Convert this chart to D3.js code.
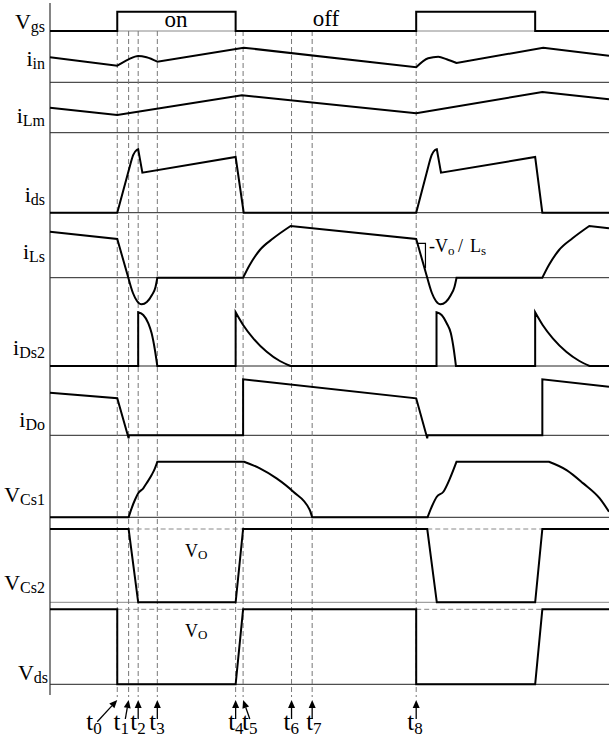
<!DOCTYPE html>
<html>
<head>
<meta charset="utf-8">
<script src="https://cdn.jsdelivr.net/npm/d3@7"></script>
<style>
  html, body { margin: 0; padding: 0; background: #fff; }
  svg { display: block; }
  text { font-family: "Liberation Serif", "DejaVu Serif", serif; }
</style>
</head>
<body>
<svg id="chart" width="609" height="739"></svg>
<script>
// Time runs in units where one switching period = 100 and t0 = 0.
const timeDomain = [-22.5, 164.5];

// Interval markers t0..t8
const markerSubs  = ["0", "1", "2", "3", "4", "5", "6", "7", "8"];
const markerTimes = [0, 3.8, 7.0, 13.4, 39.6, 42.1, 58.3, 65.2, 100];

// Row names (main symbol, subscript)
const rowSymbols = ["V", "i", "i", "i", "i", "i", "i", "V", "V", "V"];
const rowSubs    = ["gs", "in", "Lm", "ds", "Ls", "Ds2", "Do", "Cs1", "Cs2", "ds"];

// Waveforms, normalised per row. Each piece: [kind, points]; "L" = straight, "C" = smooth.
const vgsWave = [
  ["L", [[-22.5, 0], [0, 0], [0, 1], [39.6, 1], [39.6, 0], [100, 0], [100, 1], [139.8, 1], [139.8, 0], [164.5, 0]]]
];
const iinWave = [
  ["L", [[-22.5, 0.625], [0, 0.415]]],
  ["C", [[0, 0.415], [3.8, 0.575], [7.0, 0.658], [9.8, 0.625], [13.4, 0.515]]],
  ["L", [[13.4, 0.515], [42.3, 0.865], [100, 0.375]]],
  ["C", [[100, 0.375], [104.0, 0.60], [107.4, 0.64], [110.2, 0.575], [113.5, 0.483]]],
  ["L", [[113.5, 0.483], [142.5, 0.865], [164.5, 0.665]]]
];
const ilmWave = [
  ["L", [[-22.5, 0.625], [0, 0.4425], [41.7, 0.935], [100, 0.485], [142.2, 1.0175], [164.5, 0.835]]]
];
const idsWave = [
  ["L", [[-22.5, 0], [0, 0], [4.48, 0.823]]],
  ["C", [[4.48, 0.823], [5.35, 0.962], [6.5, 1.045], [7.0, 1.057]]],
  ["L", [[7.0, 1.057], [8.4, 0.667], [39.6, 0.928], [42.3, 0], [100, 0], [104.1, 0.778]]],
  ["C", [[104.1, 0.778], [105.2, 0.962], [106.3, 1.045], [106.9, 1.057]]],
  ["L", [[106.9, 1.057], [108.3, 0.667], [139.8, 0.928], [142.2, 0], [164.5, 0]]]
];
const ilsWave = [
  ["L", [[-22.5, 0.92], [0, 0.774], [3.7, 0]]],
  ["C", [[3.7, 0], [5.25, -0.306], [6.6, -0.466], [8.15, -0.532], [9.9, -0.486], [11.6, -0.346], [12.8, -0.186], [13.4, 0]]],
  ["L", [[13.4, 0], [42.1, 0]]],
  ["C", [[42.1, 0], [44.3, 0.254], [47.7, 0.554], [52.2, 0.788], [58.0, 1.034]]],
  ["L", [[58.0, 1.034], [100, 0.774], [103.7, 0]]],
  ["C", [[103.7, 0], [105.25, -0.306], [106.6, -0.466], [108.15, -0.532], [109.9, -0.486], [111.6, -0.346], [112.8, -0.186], [113.5, 0]]],
  ["L", [[113.5, 0], [142.2, 0]]],
  ["C", [[142.2, 0], [144.4, 0.254], [147.8, 0.554], [152.3, 0.788], [157.9, 1.034]]],
  ["L", [[157.9, 1.034], [164.5, 0.988]]]
];
const ids2Wave = [
  ["L", [[-22.5, 0], [7.0, 0], [7.0, 1.074]]],
  ["C", [[7.0, 1.074], [8.7, 1.02], [10.4, 0.854], [11.5, 0.654], [12.6, 0.32], [13.4, 0]]],
  ["L", [[13.4, 0], [39.6, 0], [39.6, 1.074]]],
  ["C", [[39.6, 1.074], [42.1, 0.82], [45.5, 0.554], [50.0, 0.286], [54.4, 0.1], [58.0, 0]]],
  ["L", [[58.0, 0], [106.8, 0], [106.8, 1.074]]],
  ["C", [[106.8, 1.074], [108.5, 1.02], [110.2, 0.854], [111.6, 0.654], [112.6, 0.32], [113.3, 0]]],
  ["L", [[113.3, 0], [139.8, 0], [139.8, 1.074]]],
  ["C", [[139.8, 1.074], [142.3, 0.82], [145.7, 0.554], [150.2, 0.286], [154.6, 0.1], [158.0, 0]]],
  ["L", [[158.0, 0], [164.5, 0]]]
];
const idoWave = [
  ["L", [[-22.5, 0.852], [0, 0.74], [3.8, -0.06], [3.9, 0], [42.1, 0], [42.1, 1.12], [100, 0.74],
         [103.7, -0.06], [103.8, 0], [142.2, 0], [142.2, 1.12], [164.5, 0.972]]]
];
const vcs1Wave = [
  ["L", [[-22.5, 0], [3.8, 0]]],
  ["C", [[3.8, 0], [4.8, 0.162], [5.9, 0.311], [7.0, 0.432], [8.7, 0.522], [9.8, 0.612], [11.5, 0.761], [12.6, 0.881], [13.4, 1.0]]],
  ["L", [[13.4, 1], [42.4, 1]]],
  ["C", [[42.4, 1], [47.7, 0.881], [53.3, 0.701], [58.9, 0.46], [64.4, 0.131], [65.2, 0]]],
  ["L", [[65.2, 0], [103.8, 0]]],
  ["C", [[103.8, 0], [105.2, 0.19], [106.9, 0.37], [109.1, 0.46], [111.3, 0.7], [113.5, 1]]],
  ["L", [[113.5, 1], [144.4, 1]]],
  ["C", [[144.4, 1], [150.3, 0.85], [155.9, 0.61], [161.4, 0.34], [164.5, 0.10]]]
];
const vcs2Wave = [
  ["L", [[-22.5, 1], [3.8, 1], [7.0, 0], [39.6, 0], [42.1, 1], [103.7, 1], [106.9, 0], [139.8, 0], [142.2, 1], [164.5, 1]]]
];
const vdsWave = [
  ["L", [[-22.5, 1], [0, 1], [0, 0], [39.6, 0], [42.1, 1], [100, 1], [100, 0], [139.8, 0], [142.2, 1], [164.5, 1]]]
];

// Dashed Vo reference spans (time intervals)
const vcs2RefSpans = [[3.8, 42.1], [103.7, 142.2]];
const vdsRefSpans  = [[0, 42.1], [100, 142.2]];

// Slope note on i_Ls: horizontal then vertical leg (time, value)
const slopeLeg = [[100.4, 0.688], [103.1, 0.688], [103.1, 0.19]];

const waves = [vgsWave, iinWave, ilmWave, idsWave, ilsWave, ids2Wave, idoWave, vcs1Wave, vcs2Wave, vdsWave];

// ---------- layout ----------
const svg = d3.select("#chart");
const x = d3.scaleLinear().domain(timeDomain).range([50, 609]);

// pixel row bands: value 0 at base, value 1 at top
const rowBase = [31, 82.3, 132.7, 212.7, 277.7, 366, 435.3, 517.3, 602.3, 684.3];
const rowTop  = [11.7, 42.3, 92.7, 152.7, 227.7, 316, 385.3, 461.7, 529, 609.3];
const yScales = rowBase.map((b, i) => d3.scaleLinear().domain([0, 1]).range([b, rowTop[i]]));

const labelY = [29, 66, 123, 202, 259, 355, 427, 502, 590, 680];
const labelX = [45, 45, 45, 45, 45, 45, 45, 45, 45, 48];

// row baselines
const sepColor = ["#888", "#222", "#222", "#222", "#222", "#222", "#222", "#222", "#888", "#222"];
rowBase.forEach((b, i) => {
  svg.append("line")
    .attr("x1", x(timeDomain[0])).attr("x2", x(timeDomain[1]))
    .attr("y1", b).attr("y2", b)
    .attr("stroke", sepColor[i]).attr("stroke-width", 1);
});

// left axis
svg.append("line").attr("x1", 50).attr("x2", 50).attr("y1", 3).attr("y2", 695)
  .attr("stroke", "#333").attr("stroke-width", 1.2);

// dashed interval markers
markerTimes.forEach(t => {
  svg.append("line")
    .attr("x1", x(t)).attr("x2", x(t))
    .attr("y1", rowBase[0]).attr("y2", 697)
    .attr("stroke", "#777").attr("stroke-width", 1)
    .attr("stroke-dasharray", "5,3");
});

// dashed Vo reference levels
function refSpans(spans, row) {
  spans.forEach(s => {
    svg.append("line")
      .attr("x1", x(s[0])).attr("x2", x(s[1]))
      .attr("y1", yScales[row](1)).attr("y2", yScales[row](1))
      .attr("stroke", "#888").attr("stroke-width", 1)
      .attr("stroke-dasharray", "5,3");
  });
}
refSpans(vcs2RefSpans, 8);
refSpans(vdsRefSpans, 9);

// waveforms
function wavePath(pieces, ys) {
  let d = "";
  pieces.forEach((pc, k) => {
    const gen = d3.line()
      .x(p => x(p[0])).y(p => ys(p[1]))
      .curve(pc[0] === "C" ? d3.curveMonotoneX : d3.curveLinear);
    let s = gen(pc[1]);
    if (k > 0) s = "L" + s.slice(1);
    d += s;
  });
  return d;
}
waves.forEach((w, i) => {
  svg.append("path")
    .attr("d", wavePath(w, yScales[i]))
    .attr("fill", "none").attr("stroke", "#000")
    .attr("stroke-width", 2).attr("stroke-linejoin", "miter")
    .attr("stroke-miterlimit", 4);
});

// slope note on i_Ls
svg.append("path")
  .attr("d", d3.line().x(p => x(p[0])).y(p => yScales[4](p[1]))(slopeLeg))
  .attr("fill", "none").attr("stroke", "#000").attr("stroke-width", 1.2);

// row labels
rowSymbols.forEach((s, i) => {
  const t = svg.append("text").attr("x", labelX[i]).attr("y", labelY[i])
    .attr("text-anchor", "end").attr("fill", "#000");
  t.append("tspan").attr("font-size", 22).text(s);
  t.append("tspan").attr("font-size", 16).attr("dy", 3).text(rowSubs[i]);
});

// on / off
svg.append("text").attr("x", 176).attr("y", 26.5).attr("text-anchor", "middle")
  .attr("font-size", 23).text("on");
svg.append("text").attr("x", 326).attr("y", 25.5).attr("text-anchor", "middle")
  .attr("font-size", 23).text("off");

// Vo labels
[[8, 556.7], [9, 636.7]].forEach(([row, yy]) => {
  const t = svg.append("text").attr("x", 185).attr("y", yy);
  t.append("tspan").attr("font-size", 18).text("V");
  t.append("tspan").attr("font-size", 13).attr("dy", 2).text("O");
});

// -Vo / Ls
{
  const t = svg.append("text").attr("x", 429).attr("y", 252);
  t.append("tspan").attr("font-size", 18).text("-V");
  t.append("tspan").attr("font-size", 13).attr("dy", 3).text("o");
  t.append("tspan").attr("font-size", 18).attr("dy", -3).attr("x", 458).text("/");
  t.append("tspan").attr("font-size", 18).attr("x", 470).text("L");
  t.append("tspan").attr("font-size", 13).attr("dy", 3).text("s");
}

// time arrows + labels
const arrowTailDx = [-20, -3.3, 0, 0, 0, 6.7, 0, 0, 0];
const labelDx = [-31, -15, -8, -8, -7.5, -1, -8, -6, -9];
markerTimes.forEach((t, i) => {
  const tipX = x(t), tipY = 700;
  const tailX = tipX + arrowTailDx[i], tailY = i === 0 ? 721.7 : 719;
  const dx = tipX - tailX, dy = tipY - tailY, len = Math.hypot(dx, dy);
  const ux = dx / len, uy = dy / len;
  const hb = [tipX - 8 * ux, tipY - 8 * uy];
  svg.append("line").attr("x1", tailX).attr("y1", tailY).attr("x2", hb[0]).attr("y2", hb[1])
    .attr("stroke", "#000").attr("stroke-width", 1.3);
  svg.append("path")
    .attr("d", `M${tipX},${tipY}L${hb[0] - 3.5 * uy},${hb[1] + 3.5 * ux}L${hb[0] + 3.5 * uy},${hb[1] - 3.5 * ux}Z`)
    .attr("fill", "#000");
  const lt = svg.append("text").attr("x", tipX + labelDx[i]).attr("y", 730);
  lt.append("tspan").attr("font-size", 25).text("t");
  lt.append("tspan").attr("font-size", 17).attr("dy", 4).text(markerSubs[i]);
});
</script>
</body>
</html>
